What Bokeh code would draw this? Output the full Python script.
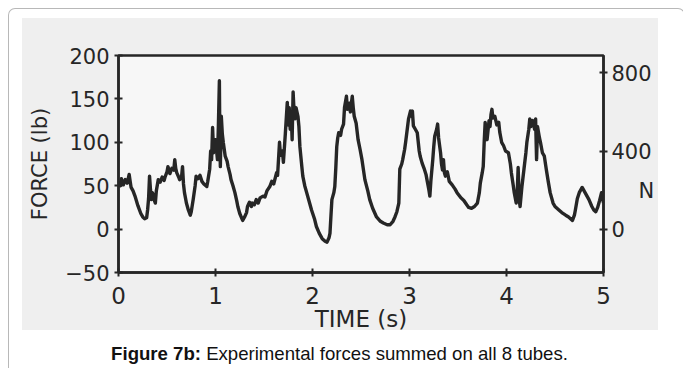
from bokeh.plotting import figure
from bokeh.models import Range1d, LinearAxis, FixedTicker, Div
from bokeh.layouts import column
from bokeh.embed import file_html
from bokeh.resources import INLINE

# ---- data ----
time_s = [0.00, 0.02, 0.03, 0.05, 0.07, 0.09, 0.11, 0.12, 0.13, 0.15, 0.17, 0.20, 0.23, 0.25,
          0.27, 0.29, 0.30, 0.31, 0.32, 0.33, 0.34, 0.35, 0.36, 0.37, 0.38, 0.39, 0.41, 0.43,
          0.45, 0.47, 0.48, 0.50, 0.51, 0.53, 0.55, 0.57, 0.58, 0.59, 0.60, 0.62, 0.63, 0.65,
          0.66, 0.67, 0.68, 0.70, 0.72, 0.74, 0.75, 0.77, 0.79, 0.80, 0.82, 0.84, 0.86, 0.88,
          0.91, 0.92, 0.94, 0.95, 0.96, 0.97, 0.98, 0.99, 1.00, 1.01, 1.02, 1.03, 1.04, 1.045,
          1.05, 1.06, 1.07, 1.08, 1.09, 1.10, 1.12, 1.13, 1.15, 1.16, 1.18, 1.20, 1.22, 1.23,
          1.25, 1.28, 1.30, 1.32, 1.33, 1.35, 1.37, 1.38, 1.40, 1.42, 1.44, 1.46, 1.49, 1.51,
          1.53, 1.56, 1.58, 1.60, 1.63, 1.64, 1.66, 1.67, 1.69, 1.70, 1.72, 1.74, 1.75, 1.76,
          1.77, 1.78, 1.79, 1.80, 1.81, 1.82, 1.83, 1.85, 1.86, 1.87, 1.89, 1.90, 1.92, 1.94,
          1.97, 1.99, 2.02, 2.04, 2.07, 2.10, 2.13, 2.15, 2.17, 2.18, 2.19, 2.20, 2.22, 2.23,
          2.24, 2.25, 2.26, 2.27, 2.29, 2.30, 2.32, 2.33, 2.35, 2.36, 2.38, 2.39, 2.41, 2.42,
          2.43, 2.45, 2.47, 2.49, 2.51, 2.54, 2.57, 2.59, 2.62, 2.66, 2.70, 2.73, 2.77, 2.80,
          2.83, 2.85, 2.87, 2.89, 2.90, 2.92, 2.93, 2.95, 2.96, 2.98, 2.99, 3.01, 3.02, 3.03,
          3.04, 3.06, 3.08, 3.10, 3.11, 3.13, 3.15, 3.17, 3.18, 3.20, 3.21, 3.22, 3.24, 3.25,
          3.26, 3.28, 3.29, 3.30, 3.32, 3.33, 3.34, 3.35, 3.36, 3.37, 3.39, 3.41, 3.44, 3.47,
          3.49, 3.53, 3.56, 3.59, 3.61, 3.64, 3.67, 3.70, 3.72, 3.73, 3.75, 3.76, 3.77, 3.78,
          3.79, 3.80, 3.82, 3.83, 3.84, 3.85, 3.86, 3.88, 3.90, 3.92, 3.93, 3.95, 3.97, 3.99,
          4.02, 4.04, 4.05, 4.07, 4.08, 4.10, 4.11, 4.12, 4.13, 4.14, 4.16, 4.18, 4.20, 4.21,
          4.23, 4.24, 4.25, 4.27, 4.29, 4.30, 4.31, 4.32, 4.34, 4.35, 4.37, 4.39, 4.41, 4.43,
          4.45, 4.48, 4.50, 4.54, 4.57, 4.61, 4.64, 4.68, 4.70, 4.71, 4.73, 4.75, 4.77, 4.78,
          4.80, 4.82, 4.85, 4.88, 4.90, 4.92, 4.94, 4.96, 4.98, 5.00]
force_lb = [55, 50, 58, 51, 57, 53, 63, 55, 48, 44, 38, 27, 18, 14,
            12, 13, 22, 35, 61, 45, 34, 42, 38, 33, 30, 44, 57, 54,
            60, 56, 60, 66, 72, 64, 70, 68, 80, 70, 65, 60, 57, 60,
            72, 52, 42, 30, 22, 16, 20, 34, 50, 61, 58, 62, 55, 52,
            49, 55, 69, 90, 80, 117, 88, 95, 103, 92, 80, 120, 171, 100,
            72, 130, 110, 100, 92, 84, 78, 72, 63, 57, 50, 42, 32, 26,
            18, 10, 14, 19, 26, 31, 26, 30, 28, 34, 30, 36, 38, 37,
            44, 49, 55, 52, 65, 62, 100, 85, 90, 77, 110, 146, 120, 140,
            115, 135, 103, 158, 135, 127, 140, 130, 118, 95, 72, 61, 50, 42,
            30, 22, 12, 3, -5, -11, -14, -15, -10, -5, 15, 34, 42, 49,
            70, 95, 105, 111, 108, 115, 121, 140, 153, 138, 145, 135, 153, 140,
            130, 122, 103, 92, 80, 57, 44, 34, 24, 14, 9, 7, 5, 5,
            9, 14, 20, 30, 69, 75, 80, 92, 100, 118, 127, 136, 130, 136,
            119, 115, 111, 90, 84, 76, 70, 63, 57, 45, 38, 55, 80, 95,
            107, 115, 121, 105, 88, 75, 68, 80, 65, 61, 66, 55, 51, 46,
            42, 36, 33, 28, 25, 24, 26, 30, 42, 53, 65, 72, 100, 123,
            110, 103, 125, 118, 132, 138, 128, 130, 120, 123, 112, 100, 96, 90,
            88, 75, 65, 50, 42, 30, 40, 71, 35, 26, 50, 69, 88, 100,
            115, 127, 118, 125, 115, 127, 80, 118, 105, 100, 88, 84, 69, 55,
            42, 30, 26, 22, 19, 16, 14, 10, 16, 22, 35, 42, 46, 48,
            44, 40, 34, 26, 22, 20, 25, 33, 42, 30]

lb_ticks = [-50, 0, 50, 100, 150, 200]
newton_ticks = [0, 400, 800]
time_ticks = [0, 1, 2, 3, 4, 5]
LB_TO_N = 4.448
N_UNIT_AT = 196          # where the "N" unit label sits on the newton scale

CAPTION_BOLD = "Figure 7b:"
CAPTION_TEXT = "Experimental forces summed on all 8 tubes."

INK = "#262626"
FONT = "DejaVu Sans"

p = figure(width=665, height=331,
           x_range=Range1d(0, 5), y_range=Range1d(-50, 200),
           output_backend="svg", toolbar_location=None,
           min_border_left=109, min_border_right=71,
           min_border_top=46, min_border_bottom=68)

p.extra_y_ranges = {"N": Range1d(-50 * LB_TO_N, 200 * LB_TO_N)}

p.grid.visible = False
p.background_fill_color = "#f7f7f7"
p.border_fill_alpha = 0
p.outline_line_color = INK
p.outline_line_width = 2.5
p.outline_line_alpha = 1.0

p.line(time_s, force_lb, line_color=INK, line_width=3.4, line_join="round")


def style_axis(ax, size):
    ax.axis_line_color = INK
    ax.axis_line_width = 2.5
    ax.major_tick_line_color = INK
    ax.major_tick_line_width = 2
    ax.major_tick_in = 4
    ax.major_tick_out = 4
    ax.minor_tick_line_color = None
    ax.major_label_text_font = FONT
    ax.major_label_text_font_size = size
    ax.major_label_text_color = INK
    ax.axis_label_text_font = FONT
    ax.axis_label_text_font_style = "normal"
    ax.axis_label_text_color = INK


# left axis (lb)
yl = p.yaxis[0]
yl.ticker = FixedTicker(ticks=lb_ticks)
style_axis(yl, "21px")
yl.major_label_standoff = 5
yl.axis_label = "FORCE (lb)"
yl.axis_label_text_font_size = "21px"
yl.axis_label_standoff = 10

# bottom axis (time)
xb = p.xaxis[0]
xb.ticker = FixedTicker(ticks=time_ticks)
style_axis(xb, "23px")
xb.major_label_standoff = 10
xb.axis_label = "TIME (s)"
xb.axis_label_text_font_size = "23px"
xb.axis_label_standoff = -1

# right axis (N)
yr = LinearAxis(y_range_name="N", ticker=FixedTicker(ticks=newton_ticks))
style_axis(yr, "21px")
yr.major_label_standoff = 4
p.add_layout(yr, "right")

# unit label "N" for the right scale
yn = LinearAxis(y_range_name="N", ticker=FixedTicker(ticks=[N_UNIT_AT]),
                major_label_overrides={N_UNIT_AT: "N"})
yn.axis_line_color = None
yn.major_tick_line_color = None
yn.major_tick_in = 0
yn.major_tick_out = 0
yn.minor_tick_line_color = None
yn.major_label_text_font = FONT
yn.major_label_text_font_size = "21px"
yn.major_label_text_color = INK
yn.major_label_standoff = -16
p.add_layout(yn, "right")

caption = Div(
    width=665, height=24,
    text=(f'<div style="font-family:\'Liberation Sans\',Arial,sans-serif;font-size:18.6px;'
          f'line-height:17px;color:#111;text-align:center;width:665px;white-space:nowrap;'
          f'position:relative;left:-7px;">'
          f'<b>{CAPTION_BOLD}</b> {CAPTION_TEXT}</div>'),
)

page = column(p, caption, spacing=0, styles={
    "margin-left": "8px",
    "margin-top": "8px",
    "border": "1px solid #b8b8b8",
    "border-bottom": "none",
    "border-radius": "7px 7px 0 0",
    "background": "linear-gradient(#efefef, #efefef) no-repeat 13px 9px / 636px 312px, #ffffff",
})

open("out.html", "w").write(file_html(page, INLINE))
